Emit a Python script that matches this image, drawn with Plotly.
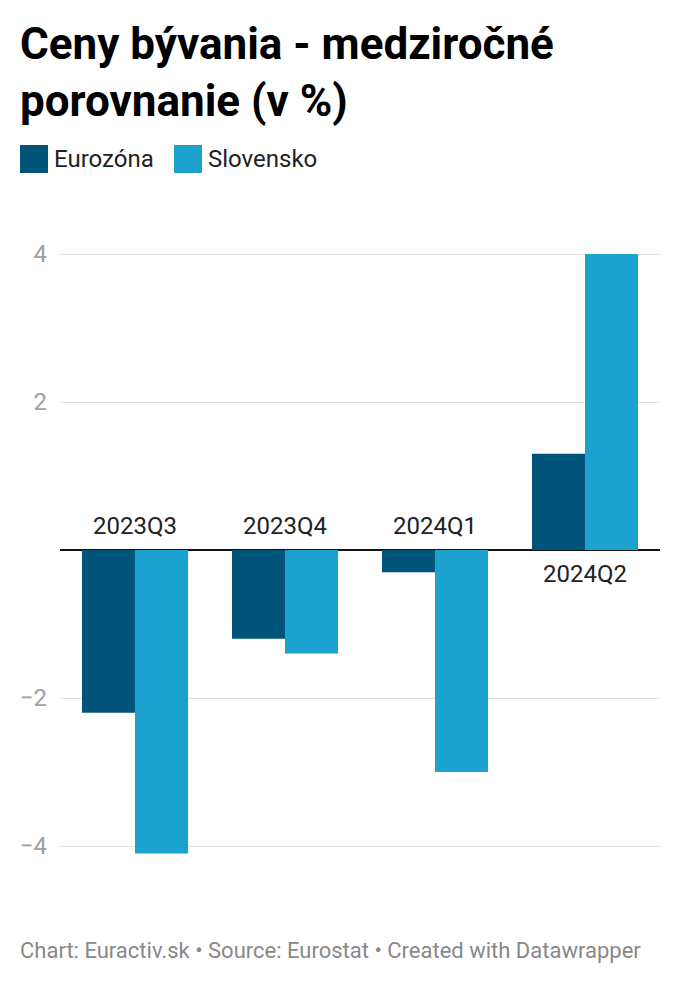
import plotly.graph_objects as go

categories = ["2023Q3", "2023Q4", "2024Q1", "2024Q2"]
eurozona = [-2.2, -1.2, -0.3, 1.3]
slovensko = [-4.1, -1.4, -3.0, 4.0]
series_names = ["Eurozóna", "Slovensko"]
colors = ["#005479", "#1ba2cf"]
y_ticks = [-4, -2, 2, 4]

fig = go.Figure()
for name, vals, col in zip(series_names, [eurozona, slovensko], colors):
    fig.add_trace(go.Bar(x=categories, y=vals, name=name, marker_color=col,
                         marker_line_width=0, showlegend=False))

W, H = 680, 986
ml, mr, mt, mb = 60, 20, 217, 103
pw, ph = W - ml - mr, H - mt - mb

def px(x):
    return (x - ml) / pw

def py(y):
    return 1 - (y - mt) / ph

annotations = []
# category labels near zero line
for c, e, s in zip(categories, eurozona, slovensko):
    pos = max(e, s) > 0
    annotations.append(dict(x=c, y=0, xref="x", yref="y", text=c, showarrow=False,
                            font=dict(family="Roboto", size=24, color="#222"),
                            yanchor="top" if pos else "bottom",
                            yshift=-8 if pos else 8))

# title
annotations.append(dict(x=px(18), y=py(16), xref="paper", yref="paper", xanchor="left", yanchor="top",
                        text="<b>Ceny bývania - medziročné<br>porovnanie (v %)</b>", showarrow=False, align="left",
                        font=dict(family="Roboto", size=44, color="#000")))
# legend
shapes = []
leg_items = [(20, 54, "Eurozóna"), (174, 208, "Slovensko")]
for (sx, tx, txt), col in zip(leg_items, colors):
    shapes.append(dict(type="rect", xref="paper", yref="paper", x0=px(sx), x1=px(sx + 28),
                       y0=py(145), y1=py(173), fillcolor=col, line_width=0))
    annotations.append(dict(x=px(tx - 2), y=py(159), xref="paper", yref="paper", xanchor="left", yanchor="middle",
                            text=txt, showarrow=False, font=dict(family="Roboto", size=24, color="#222")))
# footer
annotations.append(dict(x=px(18), y=py(950), xref="paper", yref="paper", xanchor="left", yanchor="middle",
                        text="Chart: Euractiv.sk • Source: Eurostat • Created with Datawrapper", showarrow=False,
                        font=dict(family="Roboto", size=22, color="#888")))

fig.update_layout(
    width=W, height=H, margin=dict(l=ml, r=mr, t=mt, b=mb),
    paper_bgcolor="white", plot_bgcolor="white",
    barmode="group", bargap=0.293, bargroupgap=0,
    annotations=annotations, shapes=shapes,
    font=dict(family="Roboto"),
)
fig.update_xaxes(showticklabels=False, showgrid=False, zeroline=False, showline=False, ticks="",
                 range=[-0.5, 3.5])
fig.update_yaxes(range=[-4.5, 4.5], tickvals=y_ticks, showgrid=True, gridcolor="#e2e2e2", gridwidth=1,
                 zeroline=True, zerolinecolor="#111", zerolinewidth=2,
                 tickfont=dict(family="Roboto", size=24, color="#a0a0a0"), ticklabelstandoff=12)

fig.write_html("out.html", config={"displayModeBar": False},
               post_script="document.body.style.margin='0';")
